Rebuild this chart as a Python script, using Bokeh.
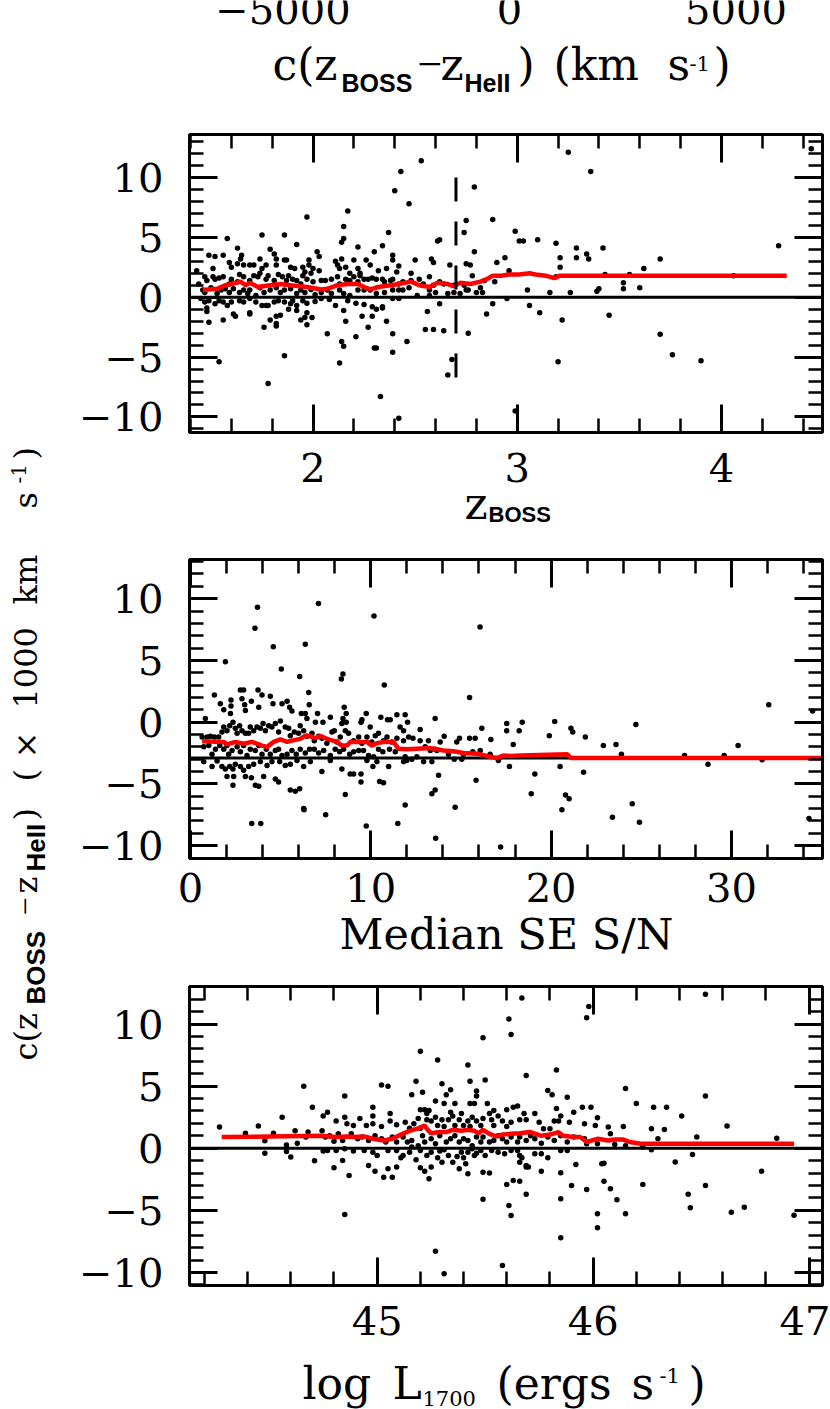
from bokeh.plotting import figure
from bokeh.layouts import column, row
from bokeh.models import Range1d, LinearAxis, SingleIntervalTicker, Span
from bokeh.core.properties import value
from bokeh.embed import file_html
from bokeh.resources import INLINE

# ---------------------------------------------------------------- data
top_ticks = [-5000, 0, 5000]
top_tick_labels = ["\u22125000", "0", "5000"]

# panel 1 : velocity offset vs z_BOSS
z_boss = [
    1.58, 1.75, 1.86, 2.15, 2.15, 2.14, 2.37, 2.61, 2.99, 3.01,
    1.49, 1.52, 1.56, 1.63, 1.65, 1.79, 1.81, 1.92, 2.02, 2.03,
    1.98, 2.11, 2.14, 2.20, 2.22, 2.26, 2.30, 2.34, 2.39, 2.39,
    2.50, 2.58, 2.59, 2.79, 2.94, 2.90, 1.43, 1.51, 1.47, 1.59,
    1.60, 1.63, 1.645, 1.66, 1.69, 1.71, 1.74, 1.75, 1.77, 1.82,
    1.82, 1.86, 1.87, 1.89, 1.91, 1.95, 1.98, 1.96, 2.00, 2.03,
    2.12, 2.13, 2.16, 2.18, 2.22, 2.23, 2.28, 2.32, 2.36, 2.42,
    2.41, 2.48, 2.57, 2.67, 2.75, 2.77, 2.78, 2.96, 2.89, 1.44,
    1.48, 1.51, 1.52, 1.54, 1.56, 1.59, 1.60, 1.63, 1.64, 1.66,
    1.69, 1.71, 1.73, 1.74, 1.77, 1.78, 1.81, 1.83, 1.85, 1.87,
    1.88, 1.90, 1.92, 1.94, 1.95, 1.97, 1.99, 2.00, 2.04, 2.06,
    2.09, 2.12, 2.13, 2.16, 2.18, 2.20, 2.22, 2.23, 2.25, 2.27,
    2.29, 2.31, 2.34, 2.35, 2.38, 2.39, 2.42, 2.44, 2.47, 2.48,
    2.52, 2.54, 2.59, 2.62, 2.64, 2.69, 2.74, 2.76, 2.82, 2.84,
    1.46, 1.47, 1.50, 1.53, 1.55, 1.57, 1.59, 1.61, 1.64, 1.66,
    1.68, 1.69, 1.72, 1.74, 1.76, 1.79, 1.82, 1.84, 1.86, 1.89,
    1.92, 1.94, 1.96, 1.99, 2.01, 2.04, 2.07, 2.09, 2.13, 2.15,
    2.18, 2.22, 2.25, 2.28, 2.31, 2.35, 2.39, 2.42, 2.44, 2.51,
    2.57, 2.60, 2.66, 2.69, 2.72, 2.75, 2.80, 2.83, 2.95, 1.45,
    1.47, 1.49, 1.52, 1.54, 1.56, 1.58, 1.60, 1.64, 1.66, 1.69,
    1.72, 1.75, 1.77, 1.78, 1.81, 1.83, 1.86, 1.89, 1.90, 1.92,
    1.95, 1.97, 2.01, 2.04, 2.08, 2.11, 2.15, 2.17, 2.21, 2.25,
    2.29, 2.31, 2.34, 2.39, 2.42, 2.57, 2.62, 2.88, 1.48, 1.48,
    1.61, 1.62, 1.69, 1.69, 1.84, 1.82, 1.88, 1.92, 1.96, 1.97,
    1.995, 2.16, 2.24, 2.29, 2.34, 2.36, 2.56, 2.85, 1.49, 1.56,
    1.76, 1.79, 1.82, 1.82, 1.94, 1.97, 2.07, 2.21, 2.27, 2.39,
    2.46, 2.55, 2.59, 2.64, 2.76, 2.14, 2.15, 2.30, 2.31, 2.39,
    1.86, 1.54, 2.13, 2.68, 2.66, 2.53, 2.43, 2.40, 2.47, 2.79,
    2.17, 1.97, 2.88, 3.25, 3.36, 4.44, 4.28, 3.03, 3.10, 3.19,
    3.29, 3.42, 3.34, 3.35, 3.29, 3.21, 3.21, 3.70, 3.62, 3.55,
    3.43, 3.52, 3.52, 3.60, 3.40, 3.39, 3.26, 3.16, 3.05, 4.06,
    3.06, 3.11, 3.22, 3.45, 3.70, 3.76, 3.90, 3.20, 2.99, 2.42,
    2.33, 1.78, 3.19, 2.75, 2.74, 2.62,
]
dv_z = [
    4.9, 5.2, 5.2, 5.9, 4.9, 4.6, 5.4, 4.7, 5.5, 4.7,
    3.5, 3.4, 3.5, 4.1, 3.5, 4.0, 3.6, 4.4, 3.8, 3.4,
    3.1, 3.0, 3.2, 3.1, 4.2, 3.1, 3.8, 4.3, 3.5, 3.1,
    3.1, 3.2, 2.9, 3.8, 3.3, 2.9, 2.2, 2.4, 1.7, 2.9,
    2.5, 2.8, 3.2, 2.7, 2.7, 2.7, 3.2, 2.4, 2.7, 3.2,
    2.7, 3.1, 3.1, 2.5, 2.4, 2.5, 2.7, 2.1, 2.4, 2.2,
    2.7, 2.4, 2.5, 2.0, 2.4, 2.0, 2.7, 2.2, 2.4, 2.6,
    2.1, 2.0, 1.7, 2.7, 2.8, 2.7, 1.8, 2.2, 1.3, 1.1,
    1.4, 1.7, 1.5, 1.6, 1.7, 1.1, 1.5, 1.3, 1.9, 1.7,
    1.4, 1.8, 1.7, 2.0, 1.5, 1.8, 1.4, 1.9, 1.7, 1.4,
    1.8, 1.5, 1.4, 1.1, 1.8, 1.5, 2.0, 1.3, 1.4, 1.4,
    1.5, 1.7, 1.1, 1.5, 1.4, 1.7, 1.3, 1.8, 1.5, 1.5,
    1.6, 1.5, 1.5, 1.3, 1.4, 1.5, 1.1, 1.3, 0.8, 1.4,
    1.5, 1.1, 1.0, 1.3, 1.1, 1.0, 1.0, 0.6, 0.8, 1.4,
    0.6, 0.4, 0.8, 0.3, 0.6, 0.7, 0.4, 0.7, 0.4, 0.6,
    0.3, 0.6, 0.15, 0.8, 0.4, 0.6, 0.8, 0.4, 0.6, 0.7,
    0.3, 0.6, 0.4, 0.65, 0.2, 0.4, 0.6, 0.3, 0.6, 0.3,
    0.15, 0.6, 0.6, 0.6, 0.3, 0.4, 0.6, 0.6, 0.6, 0.15,
    0.6, 0.4, 0.3, 0.4, 0.3, 0.6, 0.4, 0.4, -0.1, -0.1,
    -0.4, -0.3, -0.55, -0.3, -0.4, -0.7, -0.4, -0.3, -0.4, -0.1,
    -0.4, -0.7, -0.7, -0.7, -0.4, -0.3, -0.4, -0.55, -0.3, -0.7,
    -0.3, -0.5, -0.35, -0.1, -0.2, -0.7, -1.1, -0.3, -0.5, -0.6,
    -0.8, -1.0, -0.8, -0.1, -0.1, 0.15, -0.55, -0.55, -0.9, -1.2,
    -1.4, -1.6, -1.3, -1.4, -1.5, -1.6, -1.0, -1.1, -1.7, -1.3,
    -1.7, -2.0, -1.6, -1.6, -0.9, -2.0, -1.2, -1.4, -2.1, -1.9,
    -2.5, -1.9, -2.2, -2.4, -1.9, -2.3, -3.05, -3.3, -2.5, -3.05,
    -3.7, -2.7, -2.7, -2.8, -3.0, -3.7, -4.1, -4.25, -4.25, -4.6,
    -4.9, -5.4, -5.5, -5.2, -6.5, 11.4, 10.5, 8.9, 7.8, 9.2,
    7.2, 6.7, 6.5, 12.1, 10.5, 12.4, 4.3, 4.7, 4.8, 4.5,
    4.1, 4.1, 3.6, 3.2, 3.3, 3.3, 2.5, 3.2, 2.4, 1.9,
    1.9, 1.2, 0.7, 0.8, 0.7, 0.5, 0.4, 0.4, 0.6, 1.8,
    -0.7, -1.3, -1.9, -1.5, -3.1, -4.8, -5.3, -5.4, -9.5, -10.1,
    -8.3, -7.2, 1.7, 6.4, 5.4, 4.8,
]
z_med = [1.46, 1.53, 1.57, 1.60, 1.645, 1.67, 1.69, 1.73, 1.79, 1.84,
         1.89, 1.97, 2.04, 2.07, 2.12, 2.17, 2.22, 2.25, 2.28, 2.32,
         2.38, 2.42, 2.48, 2.52, 2.57, 2.61, 2.66, 2.69, 2.72, 2.77,
         2.82, 2.85, 2.88, 2.92, 2.96, 3.01, 3.06, 3.09, 3.14, 3.18,
         3.21, 4.32]
dv_z_med = [0.6, 0.7, 1.0, 1.1, 1.3, 1.0, 1.2, 0.85, 1.0, 1.1,
            1.0, 0.85, 0.65, 0.7, 1.0, 1.1, 1.1, 0.85, 0.65, 0.85,
            1.0, 1.1, 1.3, 1.0, 0.85, 1.2, 1.1, 0.9, 1.2, 1.1,
            1.3, 1.5, 1.8, 1.8, 1.9, 1.9, 2.0, 1.9, 1.8, 1.6,
            1.8, 1.8]
z_cut = 2.7
z_cut_extent = [10.0, -7.5]
zero_level_z = 0.0

# panel 2 : velocity offset vs median S/N
sn = [
    1.94, 5.04, 6.06, 8.37, 8.46, 10.75, 1.33, 2.77, 2.95, 3.75,
    3.97, 4.43, 6.56, 15.48, 1.66, 2.25, 2.25, 2.86, 3.01, 3.38,
    2.22, 1.85, 3.05, 3.79, 4.58, 5.08, 5.36, 5.50, 5.63, 6.15,
    6.37, 6.59, 7.05, 6.93, 6.46, 7.35, 7.76, 7.98, 8.53, 8.46,
    8.64, 8.64, 8.40, 9.51, 9.75, 9.46, 9.97, 10.56, 10.93, 11.08,
    11.45, 11.91, 12.04, 11.63, 11.82, 12.74, 13.57, 14.07, 14.92, 15.48,
    15.79, 16.16, 16.66, 17.54, 17.54, 18.23, 0.83, 0.65, 0.92, 1.11,
    1.33, 1.57, 1.75, 1.85, 2.03, 2.18, 2.36, 2.49, 2.59, 2.73,
    2.86, 3.05, 3.23, 3.32, 3.51, 3.69, 3.88, 4.03, 4.16, 4.34,
    4.52, 4.71, 4.89, 4.99, 5.26, 5.45, 5.54, 5.76, 6.00, 6.09,
    6.28, 6.46, 6.74, 6.87, 7.11, 7.29, 7.57, 7.85, 8.13, 8.31,
    8.59, 8.77, 9.05, 9.33, 9.51, 9.79, 10.06, 10.25, 10.43, 10.71,
    10.90, 11.17, 11.45, 11.82, 12.10, 12.34, 12.74, 13.02, 13.20, 13.57,
    13.85, 14.31, 14.77, 15.14, 15.66, 16.07, 16.62, 17.08, 0.74, 1.02,
    1.20, 1.39, 1.63, 1.85, 2.03, 2.12, 2.31, 2.59, 2.77, 2.95,
    3.14, 3.32, 3.60, 3.79, 3.97, 4.21, 4.43, 4.71, 4.89, 5.08,
    5.36, 5.63, 5.87, 6.09, 6.37, 6.61, 6.87, 7.11, 7.39, 7.76,
    8.03, 8.27, 8.49, 8.83, 9.05, 9.33, 9.60, 9.88, 10.16, 10.43,
    10.67, 11.04, 11.36, 11.91, 12.28, 12.56, 13.30, 13.67, 0.74, 1.20,
    1.48, 1.75, 1.94, 2.18, 2.36, 2.49, 2.77, 2.95, 3.23, 3.51,
    3.88, 4.25, 4.52, 4.95, 5.26, 5.54, 5.91, 6.28, 6.65, 7.29,
    7.76, 8.40, 8.86, 9.05, 9.46, 9.79, 10.12, 10.34, 10.99, 11.82,
    12.00, 12.93, 13.39, 13.76, 14.63, 15.05, 17.08, 17.69, 2.03, 2.40,
    3.05, 3.38, 3.60, 3.79, 4.06, 4.71, 4.89, 5.54, 5.82, 6.06,
    8.59, 9.46, 10.49, 10.71, 11.91, 13.39, 13.57, 14.68, 15.84, 2.36,
    6.28, 3.72, 3.58, 4.60, 6.37, 7.10, 10.18, 16.06, 32.07,
    34.5, 30.37, 29.6, 28.7, 27.4, 31.7, 24.7, 23.6, 22.9, 23.9,
    21.9, 21.1, 21.2, 20.2, 19.9, 18.4, 17.9, 20.5, 21.8, 19.1,
    18.9, 20.8, 21.0, 20.6, 24.5, 23.4, 24.9, 17.2, 13.6, 11.5,
    9.75, 7.5, 6.3, 3.4, 3.9, 34.3,
]
dv_sn = [
    4.9, 4.3, 3.7, 3.5, 3.9, 3.0, 2.2, 2.6, 2.6, 2.6,
    2.2, 2.1, 2.4, 2.0, 1.5, 1.8, 1.3, 1.9, 1.4, 1.7,
    0.7, 1.0, 0.95, 1.2, 1.5, 1.5, 1.7, 1.2, 0.9, 0.7,
    0.7, 1.4, 0.7, 0.0, 0.3, 0.0, 0.4, -0.7, 1.2, 0.3,
    0.7, 0.0, -0.1, 0.2, 0.7, 0.0, -0.4, 0.4, 0.2, 0.2,
    0.6, 0.6, 0.0, -0.4, -0.7, -0.6, 0.3, -1.15, -1.3, -1.3,
    -1.3, -0.5, -1.4, -0.1, -0.7, -0.7, 0.3, -1.2, -1.2, -1.15,
    -1.2, -1.2, -0.8, -0.4, -0.7, -0.3, 0.0, -0.5, -0.9, -0.3,
    -0.7, -0.9, -0.9, -0.4, -0.7, -0.4, -0.5, -0.1, -0.7, -0.3,
    -0.4, -0.1, -0.8, 0.1, -0.4, -0.5, -1.1, -0.8, -0.9, -0.3,
    -0.7, -1.15, -0.9, -1.5, -1.15, -1.3, -1.7, -0.8, -1.6, -1.2,
    -0.7, -0.9, -1.5, -1.2, -1.7, -1.2, -1.6, -1.1, -0.9, -1.5,
    -1.2, -1.6, -1.3, -1.5, -1.2, -1.3, -1.5, -2.0, -1.5, -2.2,
    -1.6, -2.6, -1.6, -2.6, -2.4, -2.3, -2.6, -3.0, -2.0, -1.9,
    -2.6, -2.2, -1.9, -2.2, -1.9, -2.6, -2.3, -2.0, -2.4, -1.9,
    -2.7, -2.2, -2.3, -1.9, -2.6, -2.2, -2.6, -2.3, -2.2, -2.7,
    -2.6, -2.3, -2.6, -2.2, -2.5, -2.2, -2.2, -2.5, -2.3, -2.7,
    -2.2, -2.4, -2.2, -2.6, -2.4, -2.3, -2.3, -2.7, -2.8, -2.2,
    -2.4, -2.2, -2.4, -2.8, -3.0, -2.8, -2.3, -2.3, -3.2, -3.6,
    -3.15, -3.6, -3.8, -3.6, -3.8, -3.4, -3.6, -3.9, -3.6, -3.4,
    -3.2, -3.5, -3.2, -3.2, -3.5, -3.4, -3.1, -3.6, -3.2, -4.0,
    -3.1, -3.8, -4.2, -4.2, -4.2, -3.1, -3.6, -3.2, -3.6, -3.2,
    -3.1, -3.2, -3.2, -4.3, -3.0, -3.0, -3.1, -3.6, -4.4, -4.4,
    -4.4, -4.5, -5.1, -5.2, -4.4, -4.6, -4.85, -5.5, -5.6, -5.4,
    -5.85, -4.85, -4.8, -4.9, -6.7, -5.8, -5.5, -6.9, -4.7, -5.1,
    -7.0, 9.3, 7.6, 6.1, 6.3, 9.6, 8.6, 7.7, 1.4,
    0.9, -1.9, -2.7, -3.4, -2.7, -3.05, -0.2, -1.8, -1.9, -2.6,
    -1.2, -0.5, -0.8, 0.05, -1.1, 0.0, -1.8, -3.6, -4.05, -4.2,
    -5.8, -5.9, -6.2, -7.1, -6.6, -7.7, -8.1, -10.1, -9.4, -8.2,
    -8.4, -7.5, -7.1, -8.2, -8.2, -7.8,
]
sn_med = [0.65, 1.85, 2.03, 2.49, 2.95, 3.42, 3.97, 4.25, 4.62, 4.99,
          5.36, 5.63, 6.09, 6.37, 6.65, 6.93, 7.2, 7.57, 8.13, 8.40,
          8.68, 8.86, 9.42, 9.79, 10.06, 10.34, 10.71, 11.26, 11.54, 12.0,
          12.56, 13.3, 13.67, 14.03, 14.59, 15.14, 15.88, 16.62, 16.99, 17.36,
          17.82, 18.28, 20.9, 21.1, 35.0]
dv_sn_med = [-1.55, -1.6, -1.8, -1.6, -1.75, -1.6, -1.9, -2.0, -1.6, -1.4,
             -1.6, -1.5, -1.35, -1.1, -1.15, -1.3, -1.1, -1.35, -1.6, -1.9,
             -1.9, -1.6, -1.6, -1.6, -1.9, -1.7, -1.6, -1.6, -2.15, -2.2,
             -2.15, -2.1, -2.2, -2.3, -2.35, -2.5, -2.55, -2.8, -2.9, -2.7,
             -2.75, -2.7, -2.6, -2.9, -2.9]
zero_level_sn = -2.9

# panel 3 : velocity offset vs log L1700
logl = [
    45.02, 45.05, 44.85, 45.18, 45.30, 45.34, 45.32, 45.16, 45.21, 45.27,
    45.31, 45.36, 45.43, 45.50, 45.69, 45.46, 45.46, 45.43, 45.45, 45.51,
    45.54, 45.60, 45.63, 45.65, 45.79, 45.81, 45.88, 45.83, 45.95, 45.99,
    46.15, 46.20, 46.28, 45.20, 45.22, 45.24, 44.98, 44.77, 44.75, 44.81,
    44.85, 44.86, 44.89, 44.92, 44.95, 44.98, 44.98, 45.02, 45.06, 45.06,
    45.09, 45.13, 45.15, 45.17, 45.19, 45.20, 45.23, 45.23, 45.25, 45.27,
    45.28, 45.30, 45.31, 45.33, 45.34, 45.35, 45.36, 45.38, 45.39, 45.40,
    45.42, 45.43, 45.44, 45.46, 45.48, 45.49, 45.52, 45.53, 45.54, 45.56,
    45.58, 45.60, 45.62, 45.66, 45.68, 45.69, 45.73, 45.75, 45.77, 45.80,
    45.82, 45.84, 45.85, 45.89, 45.91, 45.96, 46.02, 46.01, 46.07, 46.08,
    46.14, 46.27, 46.30, 44.745, 44.76, 44.78, 44.80, 44.82, 44.84, 44.88,
    44.91, 44.93, 44.96, 44.99, 45.02, 45.04, 45.07, 45.09, 45.12, 45.14,
    45.16, 45.19, 45.21, 45.22, 45.25, 45.27, 45.29, 45.32, 45.34, 45.36,
    45.38, 45.40, 45.42, 45.44, 45.46, 45.48, 45.49, 45.52, 45.54, 45.56,
    45.58, 45.60, 45.62, 45.65, 45.66, 45.69, 45.71, 45.73, 45.76, 45.79,
    45.82, 45.85, 45.88, 45.91, 45.96, 45.97, 46.02, 46.10, 46.15, 46.23,
    44.75, 44.77, 44.81, 44.85, 44.89, 44.94, 44.98, 45.00, 45.05, 45.09,
    45.11, 45.12, 45.15, 45.16, 45.18, 45.20, 45.23, 45.25, 45.28, 45.29,
    45.31, 45.33, 45.35, 45.37, 45.39, 45.40, 45.41, 45.42, 45.44, 45.45,
    45.46, 45.48, 45.50, 45.53, 45.56, 45.59, 45.62, 45.65, 45.66, 45.67,
    45.69, 45.70, 45.73, 45.76, 45.79, 45.85, 45.88, 45.92, 46.04, 46.27,
    44.80, 44.84, 44.87, 44.96, 44.99, 45.03, 45.05, 45.07, 45.09, 45.20,
    45.22, 45.24, 45.25, 45.30, 45.38, 45.42, 45.49, 45.52, 45.66, 45.69,
    45.76, 45.85, 45.60, 45.63, 45.66, 45.69, 45.49, 45.61, 45.62, 45.85,
    45.90, 45.97, 46.05, 46.05, 46.08, 46.11, 46.02, 46.15, 46.23, 44.85,
    44.27, 44.39, 44.45, 44.48, 44.52, 44.56, 44.48, 44.58, 44.60, 44.58,
    44.62, 44.63, 44.66, 44.67, 44.68, 44.70, 44.71, 45.20, 45.28, 45.42,
    45.49, 45.62, 45.61, 45.67, 45.83, 45.97, 45.98, 46.52, 46.52, 46.34,
    46.41, 46.33, 46.48, 46.46, 46.62, 46.85, 46.38, 46.52, 46.44, 46.45,
    46.64, 46.70, 46.78, 46.93, 45.85, 46.02, 45.27, 45.31, 45.58,
]
dv_l = [
    5.1, 5.0, 4.2, 5.4, 5.2, 4.7, 4.3, 4.3, 4.5, 3.8,
    3.6, 3.6, 5.4, 5.5, 5.86, 4.6, 4.2, 3.6, 3.6, 3.6,
    3.04, 3.1, 3.3, 3.4, 4.65, 4.3, 4.1, 3.2, 3.3, 3.3,
    4.8, 3.6, 3.3, 3.1, 3.1, 3.04, 3.3, 2.9, 2.6, 2.2,
    2.5, 1.97, 1.83, 2.4, 1.83, 2.6, 1.97, 1.75, 2.8, 2.2,
    1.9, 2.1, 1.6, 1.97, 2.4, 1.6, 2.8, 2.3, 2.2, 2.5,
    1.83, 2.3, 1.75, 2.3, 2.9, 2.6, 1.83, 2.3, 2.8, 1.83,
    2.2, 1.75, 2.5, 2.2, 1.83, 2.4, 2.8, 2.3, 1.83, 2.6,
    2.2, 1.75, 2.1, 2.3, 2.8, 2.3, 2.8, 2.1, 1.56, 1.56,
    2.2, 2.2, 2.6, 2.1, 2.9, 1.97, 2.45, 1.83, 1.7, 1.16,
    1.75, 1.56, 0.76, 1.4, 0.9, 1.0, 0.57, 1.16, 0.62, 1.16,
    0.76, 0.9, 0.62, 1.0, 0.76, 0.5, 0.9, 0.5, 0.9, 0.5,
    0.62, 0.2, 1.0, 0.5, 0.76, 0.36, 1.0, 0.5, 0.76, 1.0,
    0.5, 0.76, 0.62, 0.2, 0.9, 0.5, 0.9, 0.5, 0.62, 1.0,
    0.76, 0.5, 0.9, 0.5, 0.9, 0.62, 1.0, 0.76, 0.41, 0.9,
    0.62, 1.0, 0.5, 0.9, 0.76, 0.36, 0.36, 0.3, 0.2, 0.09,
    -0.23, -0.18, -0.18, -0.05, -0.23, -0.18, -0.32, -0.58, -0.18, -0.18,
    -0.77, -0.58, -0.32, 0.09, -0.93, -0.18, -0.58, -0.32, -0.77, -0.23,
    -0.13, -0.58, -1.12, -0.66, -0.32, -0.77, -1.25, -0.32, -0.05, -0.58,
    -0.4, -0.18, -0.58, -0.18, -0.32, -0.45, -0.18, -0.18, -0.58, -0.77,
    -1.39, -1.52, -0.45, -0.45, -0.77, -0.18, -0.18, -1.3, -1.25, -0.13,
    -1.58, -0.99, -2.2, -1.39, -1.85, -2.33, -1.66, -2.33, -1.52, -1.58,
    -1.85, -2.46, -1.52, -1.12, -1.66, -2.06, -1.93, -2.0, -1.12, -1.52,
    -1.85, -1.98, -2.92, -2.6, -2.65, -3.7, -4.1, -4.6, -5.41, -4.07,
    -3.0, -3.32, -1.2, -2.65, -3.27, -4.15, -5.28, -5.28, -2.92, -5.33,
    1.7, 1.2, 1.8, 0.6, 1.2, 2.5, -0.4, 0.27, -0.7, -0.27,
    1.4, 0.4, 5.0, 0.9, 1.3, 3.3, -1.0, 7.8, 7.1, 6.7,
    8.9, 9.15, 10.4, 12.1, 6.3, 10.5, 11.4, 12.4, 4.2, 3.3,
    2.6, 1.5, 0.9, -0.5, 1.8, 0.8, -1.1, -3.0, -3.7, -4.8,
    -5.15, -4.75, -1.85, -5.4, -7.2, -6.4, -8.3, -10.1, -9.45,
]
logl_med = [44.28, 44.74, 44.81, 44.86, 44.89, 44.94, 44.98, 45.03, 45.07, 45.11,
            45.15, 45.19, 45.22, 45.23, 45.25, 45.29, 45.32, 45.35, 45.39, 45.42,
            45.45, 45.47, 45.49, 45.52, 45.55, 45.58, 45.62, 45.66, 45.71, 45.76,
            45.80, 45.84, 45.86, 45.91, 45.94, 45.97, 46.02, 46.07, 46.10, 46.14,
            46.17, 46.22, 46.93]
dv_l_med = [0.9, 1.0, 0.9, 0.95, 0.9, 0.95, 0.76, 0.62, 0.76, 1.1,
            1.4, 1.6, 1.83, 1.56, 1.2, 1.3, 1.3, 1.48, 1.4, 1.48,
            1.4, 1.2, 1.48, 1.16, 0.95, 1.1, 1.16, 1.2, 1.3, 1.0,
            1.1, 1.3, 1.0, 0.9, 0.9, 0.5, 0.76, 0.62, 0.7, 0.7,
            0.5, 0.36, 0.36]
zero_level_l = 0.0

# ---------------------------------------------------------------- style
SERIF = "DejaVu Serif"
SUB = "Liberation Sans"
MINUS = "Liberation Serif"
RED = "#ff0000"
BASE_K = 0.27                 # baseline correction (fraction of font size)

YLAB_W = 62
COL_W = 830 - YLAB_W
B_LEFT = 189 - YLAB_W
B_RIGHT = YLAB_W + COL_W - 822
FRAME_RANGE = (189, 822)


def style_axis(ax, show, standoff):
    ax.axis_line_color = None
    ax.major_tick_in = 28
    ax.major_tick_out = 0
    ax.minor_tick_in = 14
    ax.minor_tick_out = 0
    ax.major_tick_line_width = 3
    ax.minor_tick_line_width = 2.5
    ax.major_tick_line_color = "black"
    ax.minor_tick_line_color = "black"
    if show:
        ax.major_label_text_font = SERIF
        ax.major_label_text_font_size = "40px"
        ax.major_label_text_color = "black"
        ax.major_label_standoff = standoff
    else:
        ax.major_label_text_font_size = "1px"
        ax.major_label_text_color = None
        ax.major_label_standoff = 0


def base_fig(height, xr, yr, top=0, bottom=0):
    p = figure(width=COL_W, height=height, x_range=Range1d(*xr), y_range=Range1d(*yr),
               x_axis_type=None, y_axis_type=None, toolbar_location=None,
               output_backend="svg", min_border_left=B_LEFT, min_border_right=B_RIGHT,
               min_border_top=top, min_border_bottom=bottom)
    p.outline_line_color = None
    p.background_fill_color = "white"
    p.border_fill_color = "white"
    return p


def panel(ptop, ft, fb, height, xr, yr, xint, xstand):
    p = base_fig(height, xr, yr, ft - ptop, height - (fb - ptop))
    p.outline_line_color = "black"
    p.outline_line_width = 3
    over = {-10: "\u221210", -5: "\u22125"}
    for loc, show in (("below", True), ("above", False)):
        ax = LinearAxis(ticker=SingleIntervalTicker(interval=xint, num_minor_ticks=5))
        style_axis(ax, show, xstand)
        p.add_layout(ax, loc)
    for loc, show in (("left", True), ("right", False)):
        ax = LinearAxis(ticker=SingleIntervalTicker(interval=5, num_minor_ticks=5),
                        major_label_overrides=over)
        style_axis(ax, show, 26)
        p.add_layout(ax, loc)
    return p


def gtext(p, x, y, s, font, size, style="normal", rotated=False):
    """Place a text piece with its baseline at (x, y) in figure coordinates."""
    shift = BASE_K * size
    if rotated:
        x, y, angle = x - shift, y, 1.5707963267948966
    else:
        x, y, angle = x, y - shift, 0.0
    p.text(x=[x], y=[y], text=[s], text_font=value(font), text_font_size=f"{size}px",
           text_font_style=style, text_align="left", text_baseline="alphabetic",
           text_color="black", angle=angle)


def scatter_panel(p, xs, ys, xm, ym, zero):
    p.add_layout(Span(location=zero, dimension="width", line_color="black",
                      line_width=3, level="underlay"))
    p.scatter(x=xs, y=ys, size=5.5, marker="circle", fill_color="black", line_color=None)
    p.line(x=xm, y=ym, line_color=RED, line_width=4.5)


# ---------------------------------------------------------------- header (0..110)
VPX = 5000 / 226.5            # km/s per pixel of the (cropped) upper panel
hdr = base_fig(110, ((189 - 509) * VPX, (822 - 509) * VPX), (110, 0))
hdr.text(x=top_ticks, y=[20 - BASE_K * 40] * len(top_ticks), text=top_tick_labels,
         text_font=value(SERIF), text_font_size="40px", text_align="center",
         text_baseline="alphabetic", text_color="black")


def hx(X):
    return (X - 509) * VPX


gtext(hdr, hx(272), 76, "c(z", SERIF, 44)
gtext(hdr, hx(341), 89, "BOSS", SUB, 25, "bold")
gtext(hdr, hx(417), 76, "\u2212", MINUS, 44)
gtext(hdr, hx(440), 76, "z", SERIF, 44)
gtext(hdr, hx(464), 89, "HeII", SUB, 25, "bold")
gtext(hdr, hx(517), 76, ")", SERIF, 44)
gtext(hdr, hx(553), 76, "(km", SERIF, 44)
gtext(hdr, hx(667), 76, "s", SERIF, 44)
gtext(hdr, hx(689), 69, "-1", SERIF, 21)
gtext(hdr, hx(713), 76, ")", SERIF, 44)

# ---------------------------------------------------------------- panel 1 (110..494)
p1 = panel(110, 134, 432, 384, (1.395, 4.495), (-11.30, 13.59), 1, 20)
scatter_panel(p1, z_boss, dv_z, z_med, dv_z_med, zero_level_z)
p1.line(x=[z_cut, z_cut], y=z_cut_extent, line_color="black", line_width=3, line_dash="24 20")

xl1 = base_fig(41, FRAME_RANGE, (535, 494))
gtext(xl1, 464, 515, "z", SERIF, 44)
gtext(xl1, 488, 520, "BOSS", SUB, 22, "bold")

# ---------------------------------------------------------------- panel 2 (535..914)
p2 = panel(535, 559, 858, 379, (-0.05, 35.05), (-11.04, 13.17), 10, 14)
scatter_panel(p2, sn, dv_sn, sn_med, dv_sn_med, zero_level_sn)

xl2 = base_fig(41, FRAME_RANGE, (955, 914))
gtext(xl2, 339, 945, "Median SE S/N", SERIF, 43)

# ---------------------------------------------------------------- panel 3 (955..1347)
p3 = panel(955, 986, 1285, 392, (44.131, 47.062), (-11.05, 13.02), 1, 20)
scatter_panel(p3, logl, dv_l, logl_med, dv_l_med, zero_level_l)

xl3 = base_fig(62, FRAME_RANGE, (1409, 1347))
gtext(xl3, 302, 1395, "log", SERIF, 44)
gtext(xl3, 392, 1395, "L", SERIF, 44)
gtext(xl3, 422, 1404, "1700", SERIF, 21)
gtext(xl3, 496, 1395, "(ergs", SERIF, 44)
gtext(xl3, 631, 1395, "s", SERIF, 44)
gtext(xl3, 659, 1381, "-1", SERIF, 21)
gtext(xl3, 688, 1395, ")", SERIF, 44)

# ---------------------------------------------------------------- y label (left strip)
ylab = figure(width=YLAB_W, height=1409, x_range=Range1d(0, YLAB_W), y_range=Range1d(1409, 0),
              x_axis_type=None, y_axis_type=None, toolbar_location=None,
              output_backend="svg", min_border=0)
ylab.outline_line_color = None
BASE, SUBB, SUPB = 34, 43, 23
gtext(ylab, BASE, 1060, "c(z", SERIF, 32, rotated=True)
gtext(ylab, SUBB, 1004, "BOSS", SUB, 26, "bold", rotated=True)
gtext(ylab, BASE, 915, "\u2212", MINUS, 32, rotated=True)
gtext(ylab, BASE, 893, "z", SERIF, 32, rotated=True)
gtext(ylab, SUBB, 871, "HeII", SUB, 26, "bold", rotated=True)
gtext(ylab, BASE, 820, ")", SERIF, 32, rotated=True)
gtext(ylab, BASE, 781, "(", SERIF, 32, rotated=True)
gtext(ylab, BASE, 758, "\u00d7", SERIF, 32, rotated=True)
gtext(ylab, BASE, 708, "1000", SERIF, 32, rotated=True)
gtext(ylab, BASE, 604, "km", SERIF, 32, rotated=True)
gtext(ylab, BASE, 508, "s", SERIF, 32, rotated=True)
gtext(ylab, SUPB, 483, "-1", SERIF, 20, rotated=True)
gtext(ylab, BASE, 459, ")", SERIF, 32, rotated=True)

layout = row(ylab, column(hdr, p1, xl1, p2, xl2, p3, xl3))

open("out.html", "w").write(file_html(layout, INLINE))
